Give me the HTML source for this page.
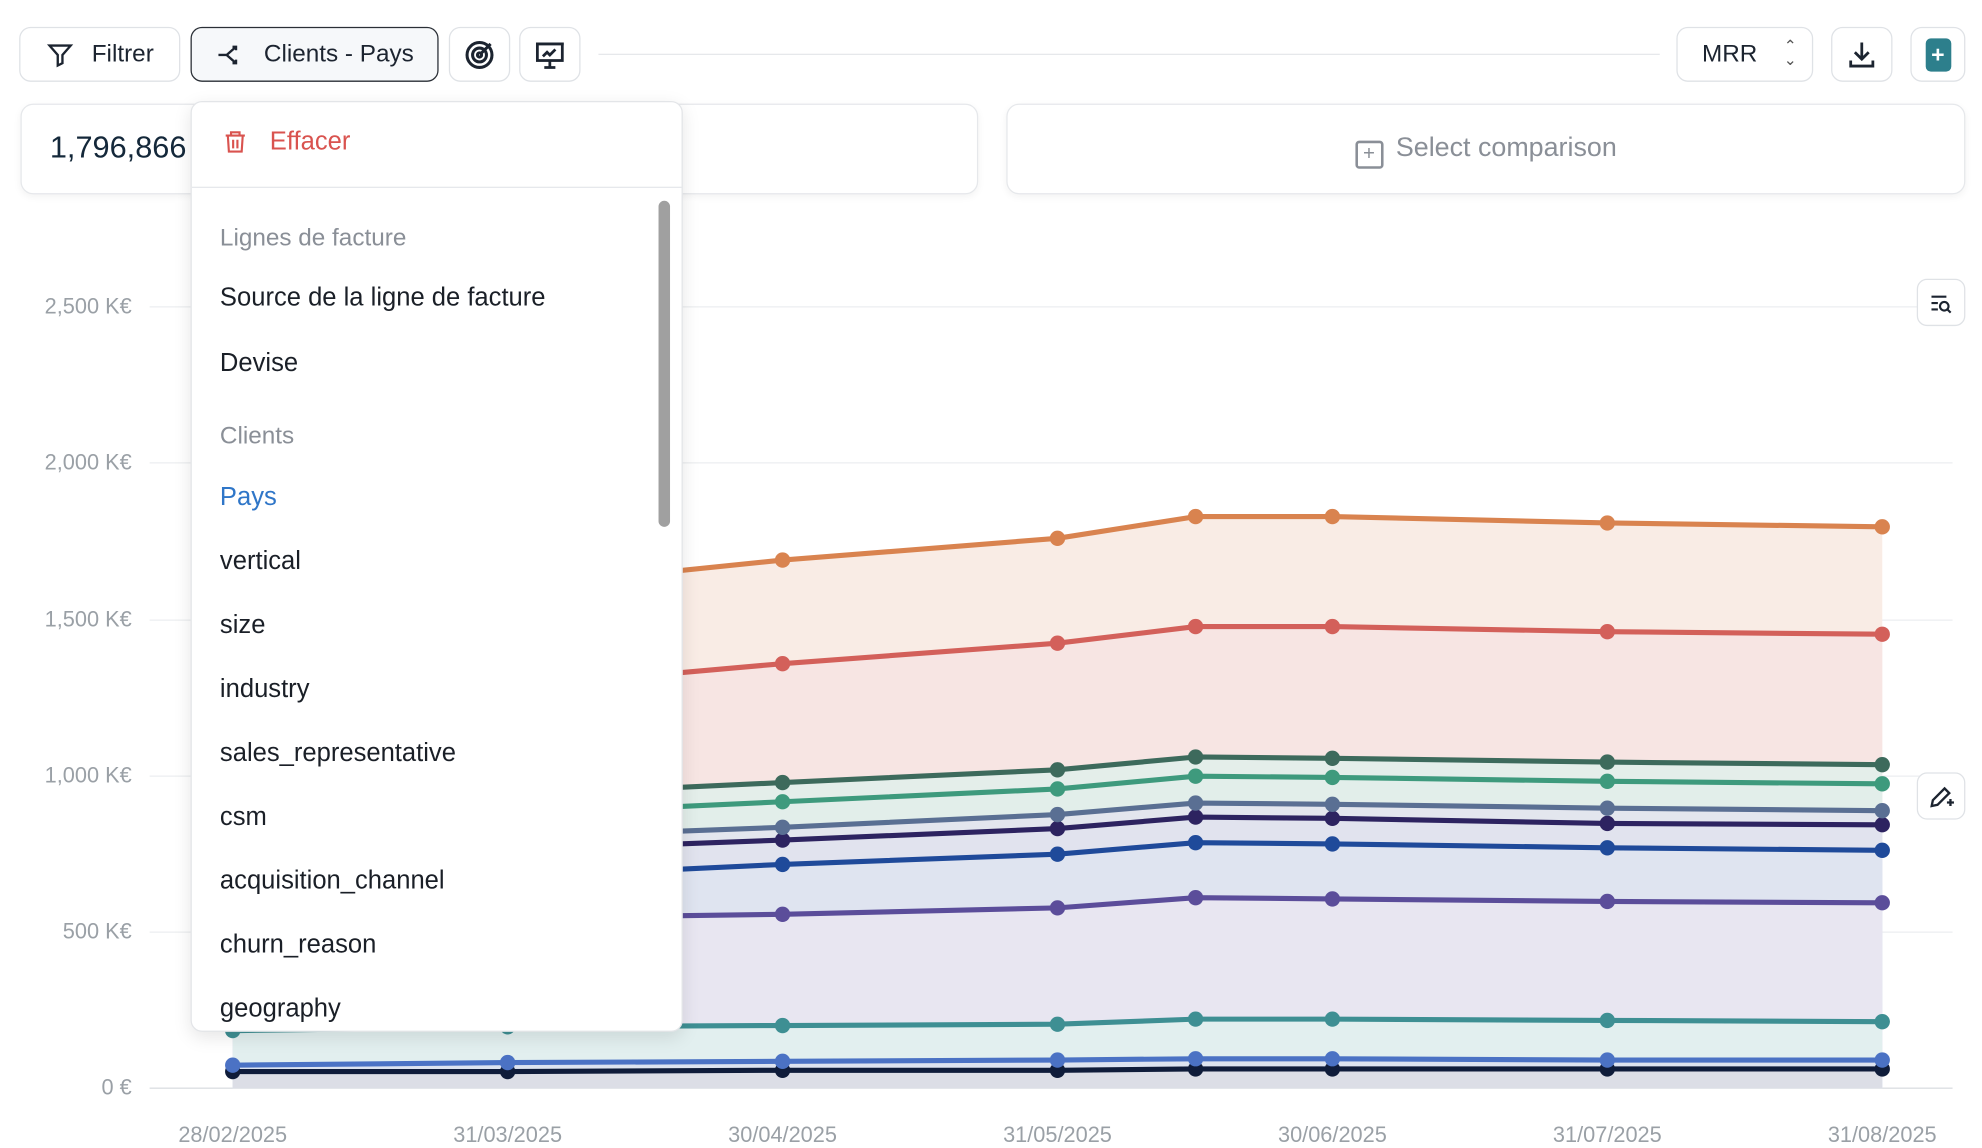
<!DOCTYPE html>
<html><head><meta charset="utf-8">
<style>
html,body{margin:0;padding:0;background:#fff;width:1982px;height:1148px;overflow:hidden;font-family:"Liberation Sans",sans-serif;}
#wrap{position:absolute;left:0;top:0;width:1550px;height:898px;transform:scale(1.2787);transform-origin:0 0;}
.btn{position:absolute;border:1px solid #dfe2e6;border-radius:9px;background:#fff;box-sizing:border-box;display:flex;align-items:center;justify-content:center;font-size:19px;color:#1c2430;}
.card{position:absolute;border:1px solid #e6e8eb;border-radius:10px;background:#fff;box-sizing:border-box;box-shadow:0 2px 6px rgba(0,0,0,0.05);}
.dd{position:absolute;left:149px;top:79px;width:385px;height:728px;background:#fff;border:1px solid #e3e5e8;border-radius:9px;box-shadow:0 4px 14px rgba(0,0,0,0.10);box-sizing:border-box;overflow:hidden;}
.it{position:absolute;left:22px;font-size:20px;color:#1a1f27;white-space:nowrap;}
.g{color:#8a8f97;font-size:19px;}
.yl{position:absolute;right:1447px;font-size:17px;color:#9aa0a6;text-align:right;white-space:nowrap;}
.xl{position:absolute;top:878px;font-size:17px;color:#9aa0a6;width:120px;text-align:center;}
</style></head><body>
<div id="wrap">
<svg width="1550" height="898" style="position:absolute;left:0;top:0">
<defs>
<marker id="m1" markerWidth="4" markerHeight="4" refX="2" refY="2" markerUnits="strokeWidth"><circle cx="2" cy="2" r="1.5" fill="#d9834f"/></marker>
<marker id="m2" markerWidth="4" markerHeight="4" refX="2" refY="2" markerUnits="strokeWidth"><circle cx="2" cy="2" r="1.5" fill="#d3605a"/></marker>
<marker id="m3" markerWidth="4" markerHeight="4" refX="2" refY="2" markerUnits="strokeWidth"><circle cx="2" cy="2" r="1.5" fill="#3d6a5c"/></marker>
<marker id="m4" markerWidth="4" markerHeight="4" refX="2" refY="2" markerUnits="strokeWidth"><circle cx="2" cy="2" r="1.5" fill="#3e9a7d"/></marker>
<marker id="m5" markerWidth="4" markerHeight="4" refX="2" refY="2" markerUnits="strokeWidth"><circle cx="2" cy="2" r="1.5" fill="#5a6f93"/></marker>
<marker id="m6" markerWidth="4" markerHeight="4" refX="2" refY="2" markerUnits="strokeWidth"><circle cx="2" cy="2" r="1.5" fill="#2d2360"/></marker>
<marker id="m7" markerWidth="4" markerHeight="4" refX="2" refY="2" markerUnits="strokeWidth"><circle cx="2" cy="2" r="1.5" fill="#1f4a9a"/></marker>
<marker id="m8" markerWidth="4" markerHeight="4" refX="2" refY="2" markerUnits="strokeWidth"><circle cx="2" cy="2" r="1.5" fill="#5b4d9a"/></marker>
<marker id="m9" markerWidth="4" markerHeight="4" refX="2" refY="2" markerUnits="strokeWidth"><circle cx="2" cy="2" r="1.5" fill="#3e8f93"/></marker>
<marker id="m10" markerWidth="4" markerHeight="4" refX="2" refY="2" markerUnits="strokeWidth"><circle cx="2" cy="2" r="1.5" fill="#4b72c4"/></marker>
<marker id="m11" markerWidth="4" markerHeight="4" refX="2" refY="2" markerUnits="strokeWidth"><circle cx="2" cy="2" r="1.5" fill="#0f1c3a"/></marker>
</defs>
<g stroke="#eceef0"><line x1="117" x2="1527" y1="240" y2="240"/><line x1="117" x2="1527" y1="362" y2="362"/><line x1="117" x2="1527" y1="485" y2="485"/><line x1="117" x2="1527" y1="607" y2="607"/><line x1="117" x2="1527" y1="729" y2="729"/></g>
<line x1="117" x2="1527" y1="851" y2="851" stroke="#dcdfe3"/>
<polygon fill="#f9ece5" points="182,482 397,460 612,438 827,421 935,404 1042,404 1257,409 1472,412 1472,851 182,851"/>
<polygon fill="#f7e5e3" points="182,556 397,538 612,519 827,503 935,490 1042,490 1257,494 1472,496 1472,851 182,851"/>
<polygon fill="#e4eeea" points="182,632 397,622 612,612 827,602 935,592 1042,593 1257,596 1472,598 1472,851 182,851"/>
<polygon fill="#e2eeea" points="182,647 397,637 612,627 827,617 935,607 1042,608 1257,611 1472,613 1472,851 182,851"/>
<polygon fill="#e3e6ee" points="182,663 397,655 612,647 827,637 935,628 1042,629 1257,632 1472,634 1472,851 182,851"/>
<polygon fill="#e1e3ee" points="182,672 397,665 612,657 827,648 935,639 1042,640 1257,644 1472,645 1472,851 182,851"/>
<polygon fill="#dfe4f0" points="182,693 397,686 612,676 827,668 935,659 1042,660 1257,663 1472,665 1472,851 182,851"/>
<polygon fill="#e8e6f1" points="182,722 397,718 612,715 827,710 935,702 1042,703 1257,705 1472,706 1472,851 182,851"/>
<polygon fill="#e2efef" points="182,806 397,803 612,802 827,801 935,797 1042,797 1257,798 1472,799 1472,851 182,851"/>
<polygon fill="#dde3ef" points="182,833 397,831 612,830 827,829 935,828 1042,828 1257,829 1472,829 1472,851 182,851"/>
<polygon fill="#dcdee6" points="182,838 397,838 612,837 827,837 935,836 1042,836 1257,836 1472,836 1472,851 182,851"/>
<g fill="none" stroke-width="4" stroke-linejoin="round">
<polyline stroke="#0f1c3a" marker-start="url(#m11)" marker-mid="url(#m11)" marker-end="url(#m11)" points="182,838 397,838 612,837 827,837 935,836 1042,836 1257,836 1472,836"/>
<polyline stroke="#4b72c4" marker-start="url(#m10)" marker-mid="url(#m10)" marker-end="url(#m10)" points="182,833 397,831 612,830 827,829 935,828 1042,828 1257,829 1472,829"/>
<polyline stroke="#3e8f93" marker-start="url(#m9)" marker-mid="url(#m9)" marker-end="url(#m9)" points="182,806 397,803 612,802 827,801 935,797 1042,797 1257,798 1472,799"/>
<polyline stroke="#5b4d9a" marker-start="url(#m8)" marker-mid="url(#m8)" marker-end="url(#m8)" points="182,722 397,718 612,715 827,710 935,702 1042,703 1257,705 1472,706"/>
<polyline stroke="#1f4a9a" marker-start="url(#m7)" marker-mid="url(#m7)" marker-end="url(#m7)" points="182,693 397,686 612,676 827,668 935,659 1042,660 1257,663 1472,665"/>
<polyline stroke="#2d2360" marker-start="url(#m6)" marker-mid="url(#m6)" marker-end="url(#m6)" points="182,672 397,665 612,657 827,648 935,639 1042,640 1257,644 1472,645"/>
<polyline stroke="#5a6f93" marker-start="url(#m5)" marker-mid="url(#m5)" marker-end="url(#m5)" points="182,663 397,655 612,647 827,637 935,628 1042,629 1257,632 1472,634"/>
<polyline stroke="#3e9a7d" marker-start="url(#m4)" marker-mid="url(#m4)" marker-end="url(#m4)" points="182,647 397,637 612,627 827,617 935,607 1042,608 1257,611 1472,613"/>
<polyline stroke="#3d6a5c" marker-start="url(#m3)" marker-mid="url(#m3)" marker-end="url(#m3)" points="182,632 397,622 612,612 827,602 935,592 1042,593 1257,596 1472,598"/>
<polyline stroke="#d3605a" marker-start="url(#m2)" marker-mid="url(#m2)" marker-end="url(#m2)" points="182,556 397,538 612,519 827,503 935,490 1042,490 1257,494 1472,496"/>
<polyline stroke="#d9834f" marker-start="url(#m1)" marker-mid="url(#m1)" marker-end="url(#m1)" points="182,482 397,460 612,438 827,421 935,404 1042,404 1257,409 1472,412"/>
</g>
</svg>

<div class="btn" style="left:15px;top:21px;width:126px;height:43px;"><svg width="22" height="22" viewBox="0 0 24 24" fill="none" stroke="#1c2430" stroke-width="2"><path d="M3 4h18l-7 8v7l-4 2v-9z"/></svg><span style="margin-left:14px">Filtrer</span></div>
<div class="btn" style="left:149px;top:21px;width:194px;height:43px;background:#f6f8fa;border-color:#2a2f36;"><svg width="24" height="22" viewBox="0 0 24 24" fill="none" stroke="#1c2430" stroke-width="2"><path d="M2 12h7M9 12l8-7M9 12l8 7M14 5h3v3M14 19h3v-3"/></svg><span style="margin-left:14px">Clients - Pays</span></div>
<div class="btn" style="left:351px;top:21px;width:48px;height:43px;"><svg width="26" height="26" viewBox="0 0 24 24" fill="none" stroke="#1c2430" stroke-width="2.2"><circle cx="12" cy="12" r="9"/><circle cx="12" cy="12" r="5"/><circle cx="12" cy="12" r="1.5"/><path d="M13 11l7-7"/></svg></div>
<div class="btn" style="left:406px;top:21px;width:48px;height:43px;"><svg width="26" height="26" viewBox="0 0 24 24" fill="none" stroke="#1c2430" stroke-width="2"><rect x="3" y="4" width="18" height="12"/><path d="M2 4h20M12 16v4M8 21h8M7 13l3-3 2 2 4-4"/></svg></div>
<div style="position:absolute;left:468px;top:42px;width:830px;height:1px;background:#e6e8eb"></div>
<div class="btn" style="left:1311px;top:21px;width:107px;height:43px;justify-content:flex-start;padding-left:19px;">MRR<span style="position:absolute;right:12px;top:9px;font-size:12px;line-height:11px;color:#555">⌃<br>⌄</span></div>
<div class="btn" style="left:1432px;top:21px;width:48px;height:43px;"><svg width="26" height="26" viewBox="0 0 24 24" fill="none" stroke="#1c2430" stroke-width="2"><path d="M12 3v12M7 10l5 5 5-5M4 16v4h16v-4"/></svg></div>
<div class="btn" style="left:1494px;top:21px;width:43px;height:43px;"><div style="width:20px;height:26px;background:#2d7f8c;border-radius:4px;color:#fff;font-size:18px;line-height:26px;text-align:center;font-weight:bold;">+</div></div>

<div class="card" style="left:16px;top:81px;width:749px;height:71px;"><div style="position:absolute;left:22px;top:20px;font-size:24px;color:#14283a;">1,796,866</div></div>
<div class="card" style="left:787px;top:81px;width:750px;height:71px;"><div style="position:absolute;left:0;right:0;top:22px;text-align:center;font-size:21px;color:#8a8f97;"><span style="display:inline-block;width:18px;height:18px;border:2px solid #8a8f97;border-radius:3px;font-size:16px;line-height:18px;vertical-align:-3px;margin-right:10px;">+</span>Select comparison</div></div>

<div class="btn" style="left:1499px;top:218px;width:38px;height:37px;border-radius:8px;"><svg width="20" height="20" viewBox="0 0 24 24" fill="none" stroke="#1c2430" stroke-width="2"><path d="M3 6h14M3 12h6M3 18h6"/><circle cx="15" cy="15" r="4"/><path d="M18 18l3 3"/></svg></div>
<div class="btn" style="left:1499px;top:604px;width:38px;height:37px;border-radius:8px;"><svg width="22" height="22" viewBox="0 0 24 24" fill="none" stroke="#1c2430" stroke-width="2"><path d="M4 20l1-5L15 5l4 4L9 19z"/><path d="M17 17h6M20 14v6"/></svg></div>

<div class="dd">
 <svg style="position:absolute;left:24px;top:20px" width="20" height="22" viewBox="0 0 24 24" fill="none" stroke="#d9534f" stroke-width="2"><path d="M3 6h18M8 6V3h8v3M5 6l1 15h12l1-15M10 10v8M14 10v8"/></svg>
 <div class="it" style="left:61px;top:20px;color:#d9534f;">Effacer</div>
 <div style="position:absolute;left:0;right:0;top:66px;height:1px;background:#e6e8eb"></div>
 <div style="position:absolute;left:365px;top:77px;width:9px;height:255px;background:#a0a0a0;border-radius:5px"></div>
 <div class="it g" style="top:96px">Lignes de facture</div>
 <div class="it" style="top:142px">Source de la ligne de facture</div>
 <div class="it" style="top:193px">Devise</div>
 <div class="it g" style="top:251px">Clients</div>
 <div class="it" style="top:298px;color:#2f76c8">Pays</div>
 <div class="it" style="top:348px">vertical</div>
 <div class="it" style="top:398px">size</div>
 <div class="it" style="top:448px">industry</div>
 <div class="it" style="top:498px">sales_representative</div>
 <div class="it" style="top:548px">csm</div>
 <div class="it" style="top:598px">acquisition_channel</div>
 <div class="it" style="top:648px">churn_reason</div>
 <div class="it" style="top:698px">geography</div>
</div>

<div class="yl" style="top:230px">2,500 K€</div>
<div class="yl" style="top:352px">2,000 K€</div>
<div class="yl" style="top:475px">1,500 K€</div>
<div class="yl" style="top:597px">1,000 K€</div>
<div class="yl" style="top:719px">500 K€</div>
<div class="yl" style="top:841px">0 €</div>
<div class="xl" style="left:122px">28/02/2025</div>
<div class="xl" style="left:337px">31/03/2025</div>
<div class="xl" style="left:552px">30/04/2025</div>
<div class="xl" style="left:767px">31/05/2025</div>
<div class="xl" style="left:982px">30/06/2025</div>
<div class="xl" style="left:1197px">31/07/2025</div>
<div class="xl" style="left:1412px">31/08/2025</div>
</div>
</body></html>
